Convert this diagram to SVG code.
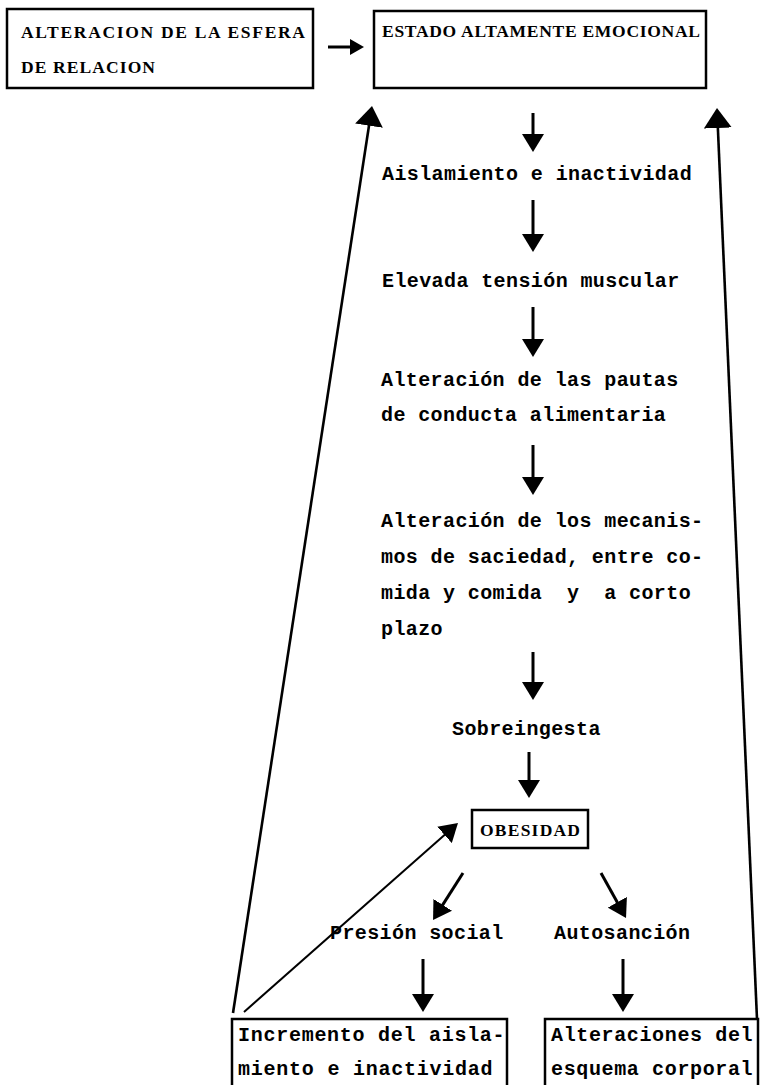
<svg xmlns="http://www.w3.org/2000/svg" width="760" height="1085" viewBox="0 0 760 1085">
<style>
.bg{fill:#fff}
.box{fill:none;stroke:#000;stroke-width:2.5}
.cap{font-family:"Liberation Serif","Times New Roman",serif;font-size:17.5px;font-weight:bold;fill:#000}
.tw{font-family:"Liberation Mono","Courier New",monospace;font-size:20px;font-weight:bold;fill:#000;letter-spacing:0.4px}
.pre{white-space:pre}
.ln{stroke:#000;stroke-width:3;fill:none}
.lg{stroke:#000;stroke-width:2.6;fill:none}
.th{stroke:#000;stroke-width:2;fill:none}
</style>
<defs>
<marker id="ah" markerUnits="userSpaceOnUse" viewBox="0 0 18 22" markerWidth="18" markerHeight="22" refX="6" refY="11" orient="auto">
<path d="M0,0 L18,11 L0,22 Z" fill="#000"/>
</marker>
<marker id="ahb" markerUnits="userSpaceOnUse" viewBox="0 0 20 28" markerWidth="20" markerHeight="28" refX="6" refY="14" orient="auto">
<path d="M0,0 L20,14 L0,28 Z" fill="#000"/>
</marker>
<marker id="ahs" markerUnits="userSpaceOnUse" viewBox="0 0 14 16" markerWidth="14" markerHeight="16" refX="3" refY="8" orient="auto">
<path d="M0,0 L14,8 L0,16 Z" fill="#000"/>
</marker>
</defs>
<rect class="bg" x="0" y="0" width="760" height="1085"/>

<g id="node-esfera">
<rect class="box" x="7" y="9" width="306" height="79"/>
<text class="cap" x="21" y="38" textLength="284" lengthAdjust="spacing">ALTERACION DE LA ESFERA</text>
<text class="cap" x="21" y="73" textLength="134" lengthAdjust="spacing">DE RELACION</text>
</g>

<g id="node-estado">
<rect class="box" x="374" y="11" width="332" height="77"/>
<text class="cap" x="382" y="37" textLength="318" lengthAdjust="spacing">ESTADO ALTAMENTE EMOCIONAL</text>
</g>

<g id="node-aislamiento">
<text class="tw" x="382" y="180">Aislamiento e inactividad</text>
</g>
<g id="node-tension">
<text class="tw" x="382" y="287">Elevada tensión muscular</text>
</g>
<g id="node-pautas">
<text class="tw" x="381" y="386">Alteración de las pautas</text>
<text class="tw" x="381" y="421">de conducta alimentaria</text>
</g>
<g id="node-mecanismos">
<text class="tw" x="381" y="527">Alteración de los mecanis-</text>
<text class="tw" x="381" y="563">mos de saciedad, entre co-</text>
<text class="tw pre" x="381" y="599" xml:space="preserve">mida y comida  y  a corto</text>
<text class="tw" x="381" y="635">plazo</text>
</g>
<g id="node-sobreingesta">
<text class="tw" x="452" y="735">Sobreingesta</text>
</g>
<g id="node-obesidad">
<rect class="box" x="472" y="810" width="116" height="38"/>
<text class="cap" x="480" y="836" textLength="100" lengthAdjust="spacing">OBESIDAD</text>
</g>
<g id="node-presion">
<text class="tw" x="330" y="939">Presión social</text>
</g>
<g id="node-autosancion">
<text class="tw" x="554" y="939">Autosanción</text>
</g>
<g id="node-incremento">
<rect class="box" x="232" y="1019" width="275" height="80"/>
<text class="tw" x="238" y="1041" textLength="267" lengthAdjust="spacing">Incremento del aisla-</text>
<text class="tw" x="238" y="1075" textLength="255" lengthAdjust="spacing">miento e inactividad</text>
</g>
<g id="node-esquema">
<rect class="box" x="545" y="1019" width="213" height="80"/>
<text class="tw" x="551" y="1041" textLength="202" lengthAdjust="spacing">Alteraciones del</text>
<text class="tw" x="551" y="1075" textLength="202" lengthAdjust="spacing">esquema corporal</text>
</g>

<g id="connectors">
<line class="ln" x1="328" y1="47" x2="353" y2="47" marker-end="url(#ahs)"/>
<line class="ln" x1="533" y1="113" x2="533" y2="140" marker-end="url(#ah)"/>
<line class="ln" x1="533" y1="200" x2="533" y2="240" marker-end="url(#ah)"/>
<line class="ln" x1="533" y1="307" x2="533" y2="345" marker-end="url(#ah)"/>
<line class="ln" x1="533" y1="445" x2="533" y2="483" marker-end="url(#ah)"/>
<line class="ln" x1="533" y1="652" x2="533" y2="688" marker-end="url(#ah)"/>
<line class="ln" x1="529" y1="752" x2="529" y2="786" marker-end="url(#ah)"/>
<line class="ln" x1="463" y1="873" x2="439.5" y2="909.9" marker-end="url(#ah)"/>
<line class="ln" x1="601" y1="873" x2="620.2" y2="907.5" marker-end="url(#ah)"/>
<line class="ln" x1="423" y1="959" x2="423" y2="1000" marker-end="url(#ah)"/>
<line class="ln" x1="623" y1="959" x2="623" y2="1000" marker-end="url(#ah)"/>
<line class="lg" x1="233" y1="1013" x2="369.9" y2="119.8" marker-end="url(#ahb)"/>
<line class="lg" x1="757" y1="1019" x2="717.6" y2="122" marker-end="url(#ahb)"/>
<line class="th" x1="244" y1="1012" x2="449" y2="830.9" marker-end="url(#ah)"/>
</g>
</svg>
